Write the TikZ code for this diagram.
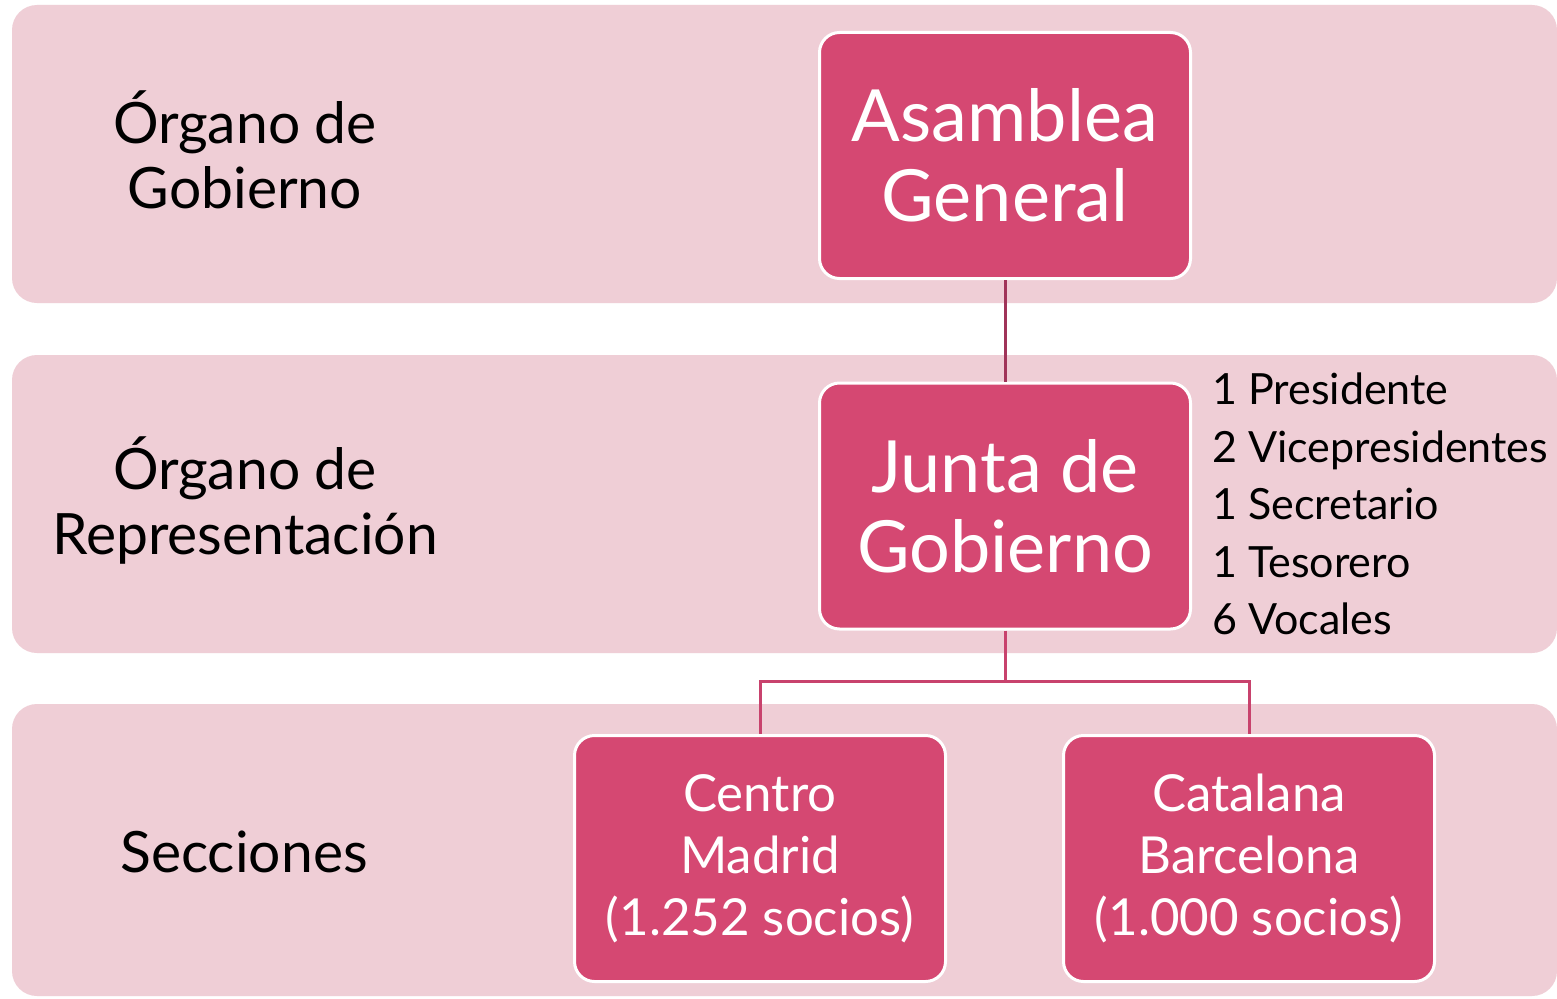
\documentclass[tikz,border=0pt]{standalone}
\usepackage{fontspec}
\setmainfont{Lato}
\definecolor{bandfill}{HTML}{EFCED6}
\definecolor{boxfill}{HTML}{D54872}
\definecolor{lineA}{HTML}{A03459}
\definecolor{lineB}{HTML}{C8426D}
\begin{document}
\begin{tikzpicture}[x=1pt,y=-1pt,
  bandbox/.style={fill=bandfill, rounded corners=25pt},
  orgbox/.style={draw=white, line width=3pt, fill=boxfill, rounded corners=20pt,
    minimum width=371pt, minimum height=246pt, text=white, align=center, inner sep=0pt},
  bigtxt/.style={font=\fontsize{72}{80}\selectfont},
  midtxt/.style={font=\fontsize{51}{62}\selectfont},
  labeltxt/.style={align=center, text=black, inner sep=0pt, font=\fontsize{57}{65}\selectfont},
  listtxt/.style={align=left, text=black, inner sep=0pt, font=\fontsize{43}{57.5}\selectfont},
  connA/.style={draw=lineA, line width=3pt},
  connB/.style={draw=lineB, line width=3pt}]
\useasboundingbox (0,0) rectangle (1557,998);
\fill[white] (0,0) rectangle (1557,998);
% bands
\path[bandbox] (12,5) rectangle (1557,303);
\path[bandbox] (12,355) rectangle (1557,653);
\path[bandbox] (12,704) rectangle (1557,996);
% left labels
\node[labeltxt] (l1) at (245,150) {Órgano de\\Gobierno};
\node[labeltxt] (l2) at (245,500) {Órgano de\\Representación};
\node[labeltxt] (l3) at (244,852) {Secciones};
% boxes
\node[orgbox, bigtxt] (ag) at (1005,155.5) {Asamblea\\General};
\node[orgbox, bigtxt] (jg) at (1005,506) {Junta de\\Gobierno};
\node[orgbox, midtxt] (cm) at (760,858.5) {Centro\\Madrid\\(1.252 socios)};
\node[orgbox, midtxt] (cb) at (1249,858.5) {Catalana\\Barcelona\\(1.000 socios)};
% connectors
\coordinate (split) at (1005,681);
\draw[connA] (ag.south) -- (jg.north);
\draw[connB] (jg.south) -- (split);
\draw[connB] (split) -| (cm.north);
\draw[connB] (split) -| (cb.north);
% list
\node[listtxt, anchor=north west] (list) at (1212,373) {1 Presidente\\2 Vicepresidentes\\1 Secretario\\1 Tesorero\\6 Vocales};
\end{tikzpicture}
\end{document}
